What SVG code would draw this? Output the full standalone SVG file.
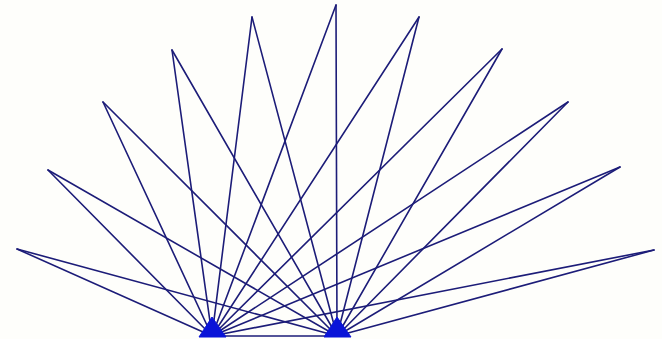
<svg xmlns="http://www.w3.org/2000/svg" width="662" height="339" viewBox="0 0 662 339">
<style>
.c{stroke:#1c1c78;stroke-width:1.6;fill:none;stroke-linecap:round}
.b{fill:#0a14d8;stroke:#0a14d8;stroke-width:1}
</style>
<rect width="662" height="339" fill="#fefefb"/>
<g id="connectors">
<path class="c" d="M212,336L17,249M212,336L48,170M212,336L103,102M212,336L172,50M212,336L252,17M212,336L336,5M212,336L419,17M212,336L502,49M212,336L568,102M212,336L620,167M212,336L654,250"/>
<path class="c" d="M337,336L17,249M337,336L48,170M337,336L103,102M337,336L172,50M337,336L252,17M337,336L336,5M337,336L419,17M337,336L502,49M337,336L568,102M337,336L620,167M337,336L654,250"/>
<path class="c" d="M212,336L337,336"/>
</g>
<g id="baseA"><polygon class="b" points="212,317 199,337 226,337"/></g>
<g id="baseB"><polygon class="b" points="337,317 324,337 351,337"/></g>
</svg>
